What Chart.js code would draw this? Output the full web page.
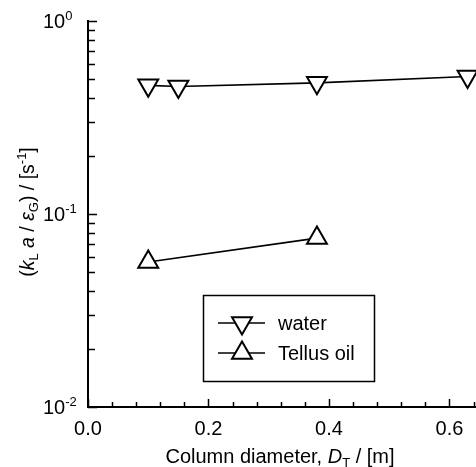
<!DOCTYPE html>
<html>
<head>
<meta charset="utf-8">
<title>kLa over gas holdup vs column diameter</title>
<script src="https://cdn.jsdelivr.net/npm/chart.js@4/dist/chart.umd.min.js"></script>
<style>
  html, body { margin: 0; padding: 0; background: #fff; }
  #wrap { width: 476px; height: 467px; }
</style>
</head>
<body>
<div id="wrap"><canvas id="kla-chart"></canvas></div>
<script type="text/javascript">
// data
var seriesNames = ["water", "Tellus oil"];
var waterDiameter = [0.10, 0.15, 0.38, 0.63];
var waterKla = [0.464, 0.458, 0.478, 0.516];
var oilDiameter = [0.10, 0.38];
var oilKla = [0.0564, 0.075];

var xTickLabels = ["0.0", "0.2", "0.4", "0.6"];
var xTickValues = [0.0, 0.2, 0.4, 0.6];
var yTickExponents = [0, -1, -2];

var FONT = "'Liberation Sans', Arial, sans-serif";
var BIG = 20, SMALL = 13;

function toPoints(xs, ys) {
  var pts = [];
  for (var i = 0; i < xs.length; i++) pts.push({x: xs[i], y: ys[i]});
  return pts;
}

// draws a run of text pieces: {t, it, pos: 'sub'|'sup'}
function setFont(ctx, p, big) {
  ctx.font = (p.it ? "italic " : "") + (p.pos ? SMALL : big) + "px " + FONT;
}
function drawRich(ctx, parts, x, y, align, big) {
  big = big || BIG;
  var w = 0;
  parts.forEach(function (p) { setFont(ctx, p, big); w += ctx.measureText(p.t).width; });
  var cx = align === "center" ? x - w / 2 : (align === "right" ? x - w : x);
  ctx.textAlign = "left";
  ctx.textBaseline = "alphabetic";
  parts.forEach(function (p) {
    setFont(ctx, p, big);
    var dy = p.pos === "sub" ? 4 : (p.pos === "sup" ? -8 : 0);
    ctx.fillText(p.t, cx, y + dy);
    cx += ctx.measureText(p.t).width;
  });
}

var axesDecor = {
  id: "axesDecor",
  afterDraw: function (chart) {
    var ctx = chart.ctx;
    var xs = chart.scales.x, ys = chart.scales.y;
    var area = chart.chartArea;
    ctx.save();
    ctx.strokeStyle = "#000";
    ctx.fillStyle = "#000";
    ctx.lineWidth = 1.5;

    // y ticks, inward
    ctx.beginPath();
    for (var e = -2; e <= 0; e++) {
      var py = Math.round(ys.getPixelForValue(Math.pow(10, e))) + 0.5;
      ctx.moveTo(area.left, py); ctx.lineTo(area.left + 9, py);
      if (e < 0) {
        for (var m = 2; m <= 9; m++) {
          var my = Math.round(ys.getPixelForValue(m * Math.pow(10, e))) + 0.5;
          ctx.moveTo(area.left, my); ctx.lineTo(area.left + 7, my);
        }
      }
    }
    // x ticks, inward
    for (var k = 0; k * 0.04 <= xs.max + 1e-9; k++) {
      var px = Math.round(xs.getPixelForValue(k * 0.04)) + 0.5;
      var len = (k % 5 === 0) ? 8 : 5;
      ctx.moveTo(px, area.bottom); ctx.lineTo(px, area.bottom - len);
    }
    ctx.stroke();

    // y tick labels 10^n
    yTickExponents.forEach(function (n) {
      var py = ys.getPixelForValue(Math.pow(10, n));
      drawRich(ctx, [{t: "10"}, {t: String(n), pos: "sup"}], area.left - 45, py + 7, "left");
    });
    // x tick labels
    xTickValues.forEach(function (v, i) {
      drawRich(ctx, [{t: xTickLabels[i]}], xs.getPixelForValue(v), area.bottom + 28, "center");
    });

    // x title
    drawRich(ctx, [
      {t: "Column diameter, "}, {t: "D", it: true}, {t: "T", pos: "sub"}, {t: " / [m]"}
    ], 280, area.bottom + 56, "center");

    // y title
    ctx.save();
    ctx.translate(27, 212);
    ctx.rotate(-Math.PI / 2);
    drawRich(ctx, [
      {t: "("}, {t: "k", it: true}, {t: "L", pos: "sub"}, {t: " a", it: true},
      {t: " / "}, {t: "\u03b5", it: true}, {t: "G", pos: "sub"},
      {t: ") / [s"}, {t: "-1", pos: "sup"}, {t: "]"}
    ], 0, 7, "center", 19.5);
    ctx.restore();

    // legend box
    var bx = area.left + 115, by = area.top + 274, bw = 171, bh = 86;
    ctx.lineWidth = 1.5;
    ctx.strokeRect(bx + 0.5, by + 0.5, bw, bh);
    chart.data.datasets.forEach(function (ds, i) {
      var ly = by + 28 + i * 30;
      ctx.beginPath();
      ctx.lineWidth = 1.5;
      ctx.moveTo(bx + 15, ly); ctx.lineTo(bx + 62, ly);
      ctx.stroke();
      ctx.lineWidth = 2;
      ctx.fillStyle = "#fff";
      Chart.helpers.drawPoint(ctx, {pointStyle: "triangle", rotation: ds.pointRotation, radius: 11.5, borderWidth: 2}, bx + 39, ly);
      ctx.fillStyle = "#000";
      drawRich(ctx, [{t: ds.label}], bx + 75, ly + 7, "left");
    });
    ctx.restore();
  }
};

new Chart(document.getElementById("kla-chart"), {
  type: "scatter",
  data: {
    datasets: [
      {
        label: seriesNames[0],
        data: toPoints(waterDiameter, waterKla),
        showLine: true,
        borderColor: "#000",
        borderWidth: 1.6,
        pointStyle: "triangle",
        pointRotation: 180,
        pointRadius: 11.5,
        pointBorderWidth: 2,
        pointBackgroundColor: "#fff",
        pointBorderColor: "#000",
        clip: false
      },
      {
        label: seriesNames[1],
        data: toPoints(oilDiameter, oilKla),
        showLine: true,
        borderColor: "#000",
        borderWidth: 1.6,
        pointStyle: "triangle",
        pointRotation: 0,
        pointRadius: 11.5,
        pointBorderWidth: 2,
        pointBackgroundColor: "#fff",
        pointBorderColor: "#000",
        clip: false
      }
    ]
  },
  options: {
    responsive: true,
    maintainAspectRatio: false,
    animation: false,
    layout: { autoPadding: false, padding: { left: 88, top: 21, right: 0, bottom: 60 } },
    plugins: { legend: { display: false }, tooltip: { enabled: false } },
    scales: {
      x: {
        type: "linear",
        min: 0,
        max: 0.644,
        grid: { display: false, drawTicks: false },
        ticks: { display: false },
        border: { display: true, color: "#000", width: 2 }
      },
      y: {
        type: "logarithmic",
        min: 0.01,
        max: 1,
        grid: { display: false, drawTicks: false },
        ticks: { display: false },
        border: { display: true, color: "#000", width: 2 }
      }
    }
  },
  plugins: [axesDecor]
});
</script>
</body>
</html>
